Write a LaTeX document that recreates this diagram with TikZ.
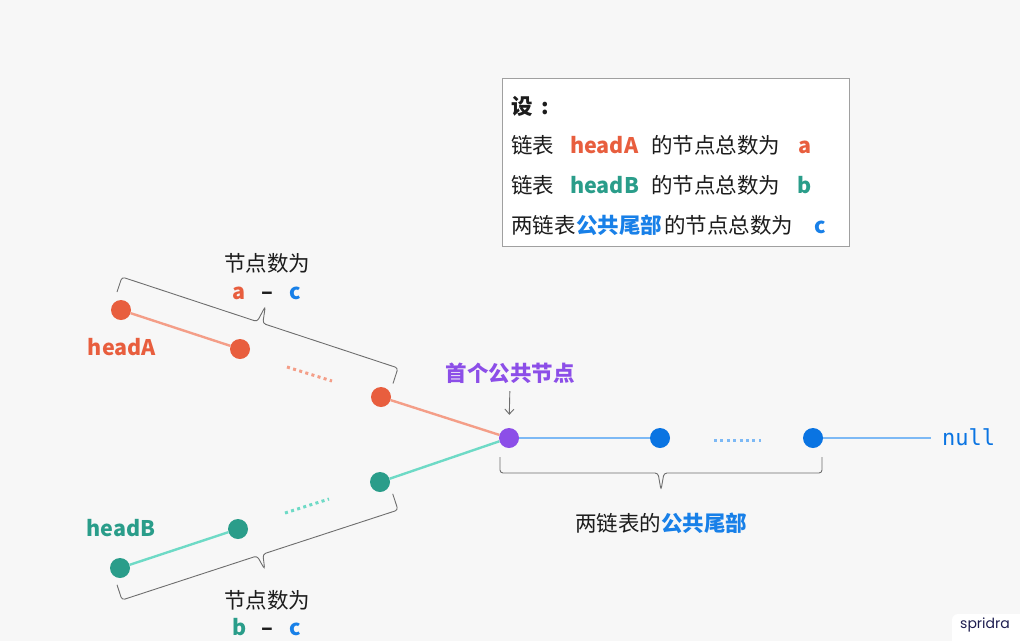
\documentclass[tikz,border=0pt]{standalone}
\usepackage{fontspec}
\setmainfont{Noto Sans CJK SC}
\newfontfamily\mynullfnt{DejaVu Sans Mono}
\newfontfamily\mywmfnt{Poppins}
\usetikzlibrary{arrows.meta}
\definecolor{cBg}{RGB}{247,247,247}
\definecolor{cOr}{RGB}{232,94,62}
\definecolor{cOrL}{RGB}{244,158,136}
\definecolor{cTe}{RGB}{42,157,138}
\definecolor{cTeL}{RGB}{110,218,198}
\definecolor{cPu}{RGB}{140,78,232}
\definecolor{cBl}{RGB}{10,116,226}
\definecolor{cBlT}{RGB}{24,128,232}
\definecolor{cBlL}{RGB}{125,185,245}
\definecolor{cBr}{RGB}{110,110,110}
\definecolor{cTx}{RGB}{28,28,28}
\definecolor{cBox}{RGB}{160,160,160}
\definecolor{cWm}{RGB}{30,30,80}
\begin{document}
\begin{tikzpicture}[x=1pt,y=-1pt,
  ndot/.style={circle, minimum size=20pt, inner sep=0pt},
  ndA/.style={ndot, fill=cOr},
  ndB/.style={ndot, fill=cTe},
  ndC/.style={ndot, fill=cBl},
  ndP/.style={ndot, fill=cPu},
  txt/.style={font=\fontsize{21.5}{26}\selectfont, text=cTx, inner sep=0pt, text height=19pt, text depth=3pt},
  btxt/.style={txt, font=\fontsize{21.5}{26}\selectfont\bfseries},
  lnk/.style={line width=2.4pt},
  dts/.style={line width=3pt, dash pattern=on 3pt off 3.4pt},
  brc/.style={draw=cBr, line width=0.9pt, rounded corners=3pt},
  lgbox/.style={draw=cBox, line width=1.4pt, fill=white, inner sep=0pt}
]
\fill[cBg] (0,0) rectangle (1020,641);
\useasboundingbox (0,0) rectangle (1020,641);

% legend
\node[lgbox, anchor=north west, minimum width=347pt, minimum height=168pt] (legend) at (502,78) {};
\node[btxt, anchor=west] (l1) at (511,106) {设};
\node[btxt] (l1c) at (545,106) {:};
\node[txt, anchor=west] (l2a) at (511,145) {链表};
\node[btxt, anchor=west, text=cOr] (l2b) at (570,145) {headA};
\node[txt, anchor=west] (l2c) at (651,145) {的节点总数为};
\node[btxt, text=cOr] (l2d) at (805,145) {a};
\node[txt, anchor=west] (l3a) at (511,185) {链表};
\node[btxt, anchor=west, text=cTe] (l3b) at (570,185) {headB};
\node[txt, anchor=west] (l3c) at (651,185) {的节点总数为};
\node[btxt, text=cTe] (l3d) at (805,185) {b};
\node[txt, anchor=west] (l4a) at (511,225) {两链表};
\node[btxt, anchor=west, text=cBlT] (l4b) at (576,225) {公共尾部};
\node[txt, anchor=west] (l4c) at (664,225) {的节点总数为};
\node[btxt, text=cBlT] (l4d) at (820,225) {c};

% nodes
\node[ndA] (A1) at (121,310) {};
\node[ndA] (A2) at (240,349) {};
\node[ndA] (A3) at (381,397) {};
\node[ndB] (B1) at (120,568) {};
\node[ndB] (B2) at (238,529) {};
\node[ndB] (B3) at (380,482) {};
\node[ndP] (P) at (509,438) {};
\node[ndC] (C2) at (660,438) {};
\node[ndC] (C3) at (813,438) {};
\node[inner sep=0pt, anchor=west, font=\mynullfnt\fontsize{22}{26}\selectfont, text=cBl] (null) at (942,437) {null};
\coordinate (nullend) at (931,438);

% links
\draw[lnk, cOrL] (A1) -- (A2);
\draw[lnk, cOrL] (A3) -- (P);
\draw[lnk, cTeL] (B1) -- (B2);
\draw[lnk, cTeL] (B3) -- (P);
\draw[lnk, cBlL] (P) -- (C2);
\draw[lnk, cBlL] (C3) -- (nullend);

% gaps
\draw[dts, cOrL] (287,367) -- (332,381);
\draw[dts, cTeL] (285,513) -- (329,499);
\draw[dts, cBlL] (714,440) -- (761,440);

% labels
\node[btxt, text=cOr] (hA) at (122,347) {headA};
\node[btxt, text=cTe] (hB) at (121,528) {headB};
\node[btxt, text=cPu] (first) at (510,373) {首个公共节点};
\draw[cBr, line width=0.9pt, -{Straight Barb[length=5pt,width=9pt]}, shorten <=7pt, shorten >=13pt] (first.south) -- (P.north);

% braces
\draw[brc] (117,292) -- (122,277) -- (257.2,321.6) -- (265.3,306.4) -- (262.8,323.4) -- (398,368) -- (393,383.5);
\draw[brc] (117,584.8) -- (122,600) -- (257.1,555.9) -- (264.7,569.3) -- (262.9,554.1) -- (398,510) -- (392.7,493.8);
\draw[brc] (500,457) -- (500,473) -- (658,473) -- (661,490) -- (664,473) -- (822,473) -- (822,457);

\node[txt] (ucap) at (267,263) {节点数为};
\node[btxt, text=cOr] (ua) at (239,291) {a};
\node[btxt] (ud) at (267,291) {–};
\node[btxt, text=cBlT] (uc) at (295,291) {c};
\node[txt] (lcap) at (267,600) {节点数为};
\node[btxt, text=cTe] (lb) at (240,627) {b};
\node[btxt] (ld) at (267,627) {–};
\node[btxt, text=cBlT] (lc) at (295,627) {c};
\node[txt] (tail) at (661,523) {两链表的\textcolor{cBlT}{\bfseries 公共尾部}};

% watermark
\node[fill=white, rounded corners=6pt, minimum width=80pt, minimum height=32pt] (wmbg) at (992,630) {};
\node[font=\mywmfnt\fontsize{14}{16}\selectfont, text=cWm, inner sep=0pt] (wm) at (985,625) {spridra};
\end{tikzpicture}
\end{document}
